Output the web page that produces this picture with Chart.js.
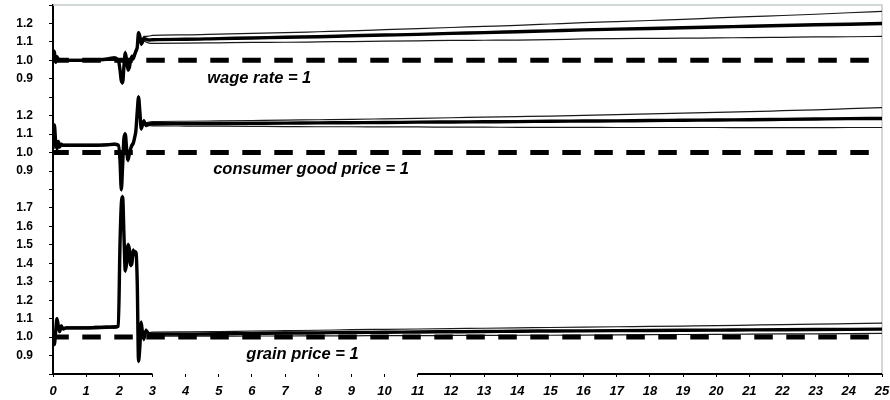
<!DOCTYPE html>
<html>
<head>
<meta charset="utf-8">
<script src="https://cdn.jsdelivr.net/npm/chart.js@4/dist/chart.umd.min.js"></script>
<style>
  html, body { margin: 0; padding: 0; background: #fff; }
  canvas { display: block; }
</style>
</head>
<body>
<canvas id="c" width="890" height="400"></canvas>
<script>
// Time axis (years) shared by all three panels
const T = [0, 0.04, 0.08, 0.12, 0.16, 0.2, 0.25, 0.3, 0.4, 0.7,
  1.0, 1.3, 1.6, 1.85, 1.97,
  2.02, 2.06, 2.1, 2.14, 2.18, 2.22, 2.26, 2.3, 2.34, 2.38,
  2.42, 2.46, 2.5, 2.54, 2.58, 2.62, 2.66, 2.7, 2.74, 2.8,
  2.9, 3,
  4, 5, 6, 7, 8, 9, 10, 11, 12, 13, 14,
  15, 16, 17, 18, 19, 20, 21, 22, 23, 24, 25];

// Wage rate (relative to 1): mean and band
const WAGE_MEAN = [1.00, 1.05, 0.99, 1.02, 1.00, 1.005, 1.00, 1.00, 1.00, 1.00,
  1.00, 1.002, 1.005, 1.01, 1.00,
  0.95, 0.89, 0.88, 0.97, 1.04, 1.00, 0.95, 0.96, 1.00, 1.02,
  1.01, 1.03, 1.05, 1.07, 1.15, 1.13, 1.09, 1.10, 1.12, 1.115,
  1.11, 1.112,
  1.114, 1.118, 1.121, 1.125, 1.128, 1.133, 1.137, 1.141, 1.146, 1.150, 1.155,
  1.160, 1.165, 1.169, 1.173, 1.177, 1.181, 1.185, 1.189, 1.193, 1.196, 1.200];
const WAGE_HIGH = [1.005, 1.055, 0.995, 1.025, 1.005, 1.01, 1.005, 1.005, 1.005, 1.005,
  1.005, 1.008, 1.012, 1.02, 1.005,
  0.96, 0.90, 0.89, 0.98, 1.05, 1.01, 0.96, 0.97, 1.01, 1.03,
  1.02, 1.04, 1.06, 1.08, 1.155, 1.14, 1.10, 1.11, 1.13, 1.13,
  1.132, 1.135,
  1.138, 1.142, 1.146, 1.150, 1.155, 1.160, 1.166, 1.172, 1.178, 1.184, 1.190,
  1.197, 1.204, 1.210, 1.216, 1.222, 1.230, 1.237, 1.243, 1.250, 1.258, 1.265];
const WAGE_LOW = [0.995, 1.045, 0.985, 1.015, 0.995, 1.0, 0.995, 0.995, 0.995, 0.995,
  0.995, 0.997, 1.0, 1.0, 0.995,
  0.94, 0.88, 0.87, 0.96, 1.03, 0.99, 0.94, 0.95, 0.99, 1.01,
  1.0, 1.02, 1.04, 1.06, 1.14, 1.12, 1.08, 1.09, 1.105, 1.10,
  1.093, 1.092,
  1.093, 1.095, 1.097, 1.098, 1.100, 1.102, 1.104, 1.106, 1.108, 1.109, 1.110,
  1.112, 1.116, 1.118, 1.119, 1.120, 1.122, 1.123, 1.125, 1.127, 1.128, 1.130];

// Consumer good price (relative to 1)
const GOOD_MEAN = [1.02, 1.15, 1.06, 1.02, 1.06, 1.03, 1.045, 1.04, 1.04, 1.04,
  1.04, 1.04, 1.042, 1.045, 1.04,
  0.96, 0.80, 0.93, 1.08, 1.10, 1.02, 0.96, 0.99, 1.02, 1.04,
  1.05, 1.08, 1.12, 1.22, 1.30, 1.22, 1.13, 1.15, 1.17, 1.15,
  1.155, 1.156,
  1.157, 1.158, 1.159, 1.160, 1.161, 1.162, 1.163, 1.165, 1.166, 1.167, 1.168,
  1.170, 1.171, 1.172, 1.174, 1.175, 1.177, 1.178, 1.180, 1.182, 1.184, 1.185];
const GOOD_HIGH = [1.025, 1.155, 1.065, 1.025, 1.065, 1.035, 1.05, 1.045, 1.045, 1.045,
  1.045, 1.045, 1.047, 1.05, 1.045,
  0.97, 0.81, 0.94, 1.09, 1.11, 1.03, 0.97, 1.00, 1.03, 1.05,
  1.06, 1.09, 1.13, 1.23, 1.31, 1.23, 1.14, 1.16, 1.18, 1.162,
  1.165, 1.168,
  1.170, 1.172, 1.174, 1.176, 1.178, 1.180, 1.183, 1.186, 1.189, 1.192, 1.195,
  1.198, 1.202, 1.206, 1.210, 1.214, 1.218, 1.222, 1.227, 1.232, 1.238, 1.244];
const GOOD_LOW = [1.015, 1.145, 1.055, 1.015, 1.055, 1.025, 1.04, 1.035, 1.035, 1.035,
  1.035, 1.035, 1.037, 1.04, 1.035,
  0.95, 0.79, 0.92, 1.07, 1.09, 1.01, 0.95, 0.98, 1.01, 1.03,
  1.04, 1.07, 1.11, 1.21, 1.29, 1.21, 1.12, 1.14, 1.16, 1.14,
  1.146, 1.145,
  1.144, 1.143, 1.142, 1.141, 1.140, 1.140, 1.139, 1.139, 1.138, 1.138, 1.137,
  1.137, 1.137, 1.136, 1.136, 1.136, 1.136, 1.135, 1.135, 1.135, 1.136, 1.136];

// Grain price (relative to 1)
const GRAIN_MEAN = [1.00, 0.96, 1.03, 1.10, 1.06, 1.03, 1.06, 1.045, 1.05, 1.05,
  1.05, 1.052, 1.053, 1.055, 1.06,
  1.50, 1.72, 1.76, 1.55, 1.36, 1.40, 1.50, 1.48, 1.39, 1.40,
  1.47, 1.45, 1.46, 1.30, 0.87, 0.95, 1.08, 1.02, 0.99, 1.035,
  1.015, 1.016,
  1.016, 1.018, 1.020, 1.022, 1.023, 1.025, 1.026, 1.028, 1.029, 1.030, 1.032,
  1.033, 1.034, 1.035, 1.036, 1.037, 1.038, 1.039, 1.040, 1.041, 1.042, 1.043];
const GRAIN_HIGH = [1.006, 0.966, 1.036, 1.106, 1.066, 1.036, 1.066, 1.051, 1.056, 1.056,
  1.056, 1.058, 1.059, 1.061, 1.066,
  1.51, 1.73, 1.77, 1.56, 1.37, 1.41, 1.51, 1.49, 1.40, 1.41,
  1.48, 1.46, 1.47, 1.31, 0.88, 0.96, 1.09, 1.03, 1.00, 1.045,
  1.025, 1.027,
  1.028, 1.030, 1.033, 1.035, 1.037, 1.040, 1.042, 1.044, 1.046, 1.048, 1.050,
  1.052, 1.054, 1.056, 1.058, 1.060, 1.062, 1.065, 1.068, 1.070, 1.073, 1.076];
const GRAIN_LOW = [0.994, 0.954, 1.024, 1.094, 1.054, 1.024, 1.054, 1.039, 1.044, 1.044,
  1.044, 1.046, 1.047, 1.049, 1.054,
  1.49, 1.71, 1.75, 1.54, 1.35, 1.39, 1.49, 1.47, 1.38, 1.39,
  1.46, 1.44, 1.45, 1.29, 0.86, 0.94, 1.07, 1.01, 0.98, 1.025,
  1.006, 1.005,
  1.005, 1.005, 1.006, 1.006, 1.007, 1.007, 1.008, 1.008, 1.009, 1.009, 1.010,
  1.010, 1.011, 1.012, 1.013, 1.014, 1.015, 1.016, 1.017, 1.018, 1.019, 1.020];

// Reference level drawn as a dashed line in each panel
const REFERENCE = 1;

// Labels for the stacked value axis, bottom to top (one per 0.1 step)
const Y_TICK_LABELS = ['', '0.9', '1.0', '1.1', '1.2', '1.3', '1.4', '1.5', '1.6', '1.7',
  '', '0.9', '1.0', '1.1', '1.2',
  '', '0.9', '1.0', '1.1', '1.2', ''];

const NOTE_TEXT = ['wage rate = 1', 'consumer good price = 1', 'grain price = 1'];

// Panel layout: where value 1.0 sits on the stacked axis (in 0.1 steps)
const PANEL_BASE = { wage: 17, good: 12, grain: 2 };
const NOTE_POS = [
  { panel: 'wage', t: 4.65, v: 0.904 },
  { panel: 'good', t: 4.83, v: 0.906 },
  { panel: 'grain', t: 5.83, v: 0.908 }
];

const toAxis = (panel, v) => (v - 1) * 10 + PANEL_BASE[panel];
const series = (panel, vals) => T.map((t, i) => ({ x: t, y: toAxis(panel, vals[i]) }));
const refLine = (panel) => [{ x: 0, y: toAxis(panel, REFERENCE) }, { x: 25, y: toAxis(panel, REFERENCE) }];

const FONT = 'Liberation Sans, Arial, Helvetica, sans-serif';

const dashed = (panel) => ({
  data: refLine(panel), borderColor: '#000', borderWidth: 5,
  borderDash: [18.5, 13.5], borderDashOffset: 2.7, borderCapStyle: 'butt'
});
const meanLine = (panel, vals) => ({
  data: series(panel, vals), borderColor: '#000', borderWidth: 3.4
});
const bandLine = (panel, vals) => ({
  data: series(panel, vals), borderColor: '#1a1a1a', borderWidth: 1.2
});

const datasets = [
  dashed('wage'), dashed('good'), dashed('grain'),
  meanLine('wage', WAGE_MEAN), bandLine('wage', WAGE_HIGH), bandLine('wage', WAGE_LOW),
  meanLine('good', GOOD_MEAN), bandLine('good', GOOD_HIGH), bandLine('good', GOOD_LOW),
  meanLine('grain', GRAIN_MEAN), bandLine('grain', GRAIN_HIGH), bandLine('grain', GRAIN_LOW)
];

// Frame, broken time axis and panel notes
const decorations = {
  id: 'decorations',
  beforeDatasetsDraw(chart) {
    const { ctx, chartArea: a } = chart;
    ctx.save();
    ctx.strokeStyle = '#c3cccc';
    ctx.lineWidth = 1.5;
    ctx.beginPath();
    ctx.moveTo(a.left, a.top);
    ctx.lineTo(a.right, a.top);
    ctx.lineTo(a.right, a.bottom);
    ctx.stroke();
    ctx.restore();
  },
  afterDatasetsDraw(chart) {
    const { ctx, chartArea: a, scales } = chart;
    const xs = scales.x, ys = scales.y;
    ctx.save();
    ctx.strokeStyle = '#000';
    ctx.lineWidth = 2;
    [[0, 3], [11, 25]].forEach(([s, e]) => {
      ctx.beginPath();
      ctx.moveTo(xs.getPixelForValue(s), a.bottom);
      ctx.lineTo(xs.getPixelForValue(e), a.bottom);
      ctx.stroke();
    });
    ctx.fillStyle = '#000';
    ctx.font = 'italic bold 16.5px ' + FONT;
    ctx.textAlign = 'left';
    ctx.textBaseline = 'middle';
    NOTE_POS.forEach((p, i) => {
      ctx.fillText(NOTE_TEXT[i], xs.getPixelForValue(p.t), ys.getPixelForValue(toAxis(p.panel, p.v)));
    });
    ctx.restore();
  }
};

new Chart(document.getElementById('c'), {
  type: 'line',
  data: { datasets },
  options: {
    responsive: false,
    devicePixelRatio: 1,
    animation: false,
    layout: { padding: { top: 5, right: 8, left: 0, bottom: 0 } },
    elements: {
      point: { radius: 0, hoverRadius: 0 },
      line: { fill: false, cubicInterpolationMode: 'monotone', borderJoinStyle: 'round' }
    },
    plugins: { legend: { display: false }, tooltip: { enabled: false } },
    scales: {
      x: {
        type: 'linear', min: 0, max: 25,
        afterFit(s) { s.height = 26; s.paddingLeft = 0; s.paddingRight = 0; },
        border: { display: false },
        grid: { drawOnChartArea: false, drawTicks: true, tickLength: 3, color: '#000', lineWidth: 1 },
        ticks: {
          stepSize: 1, autoSkip: false, maxRotation: 0, padding: 7, color: '#000',
          font: { family: FONT, size: 13, weight: 'bold', style: 'italic' }
        }
      },
      y: {
        type: 'linear', min: 0, max: 20,
        afterFit(s) { s.width = 53; s.paddingTop = 0; s.paddingBottom = 0; },
        border: { display: true, color: '#000', width: 2 },
        grid: { drawOnChartArea: false, drawTicks: true, tickLength: 4, color: '#000', lineWidth: 1 },
        ticks: {
          stepSize: 1, autoSkip: false, padding: 16, color: '#000',
          font: { family: FONT, size: 12, weight: 'bold' },
          callback: (v) => Y_TICK_LABELS[Math.round(v)] ?? ''
        }
      }
    }
  },
  plugins: [decorations]
});
</script>
</body>
</html>
